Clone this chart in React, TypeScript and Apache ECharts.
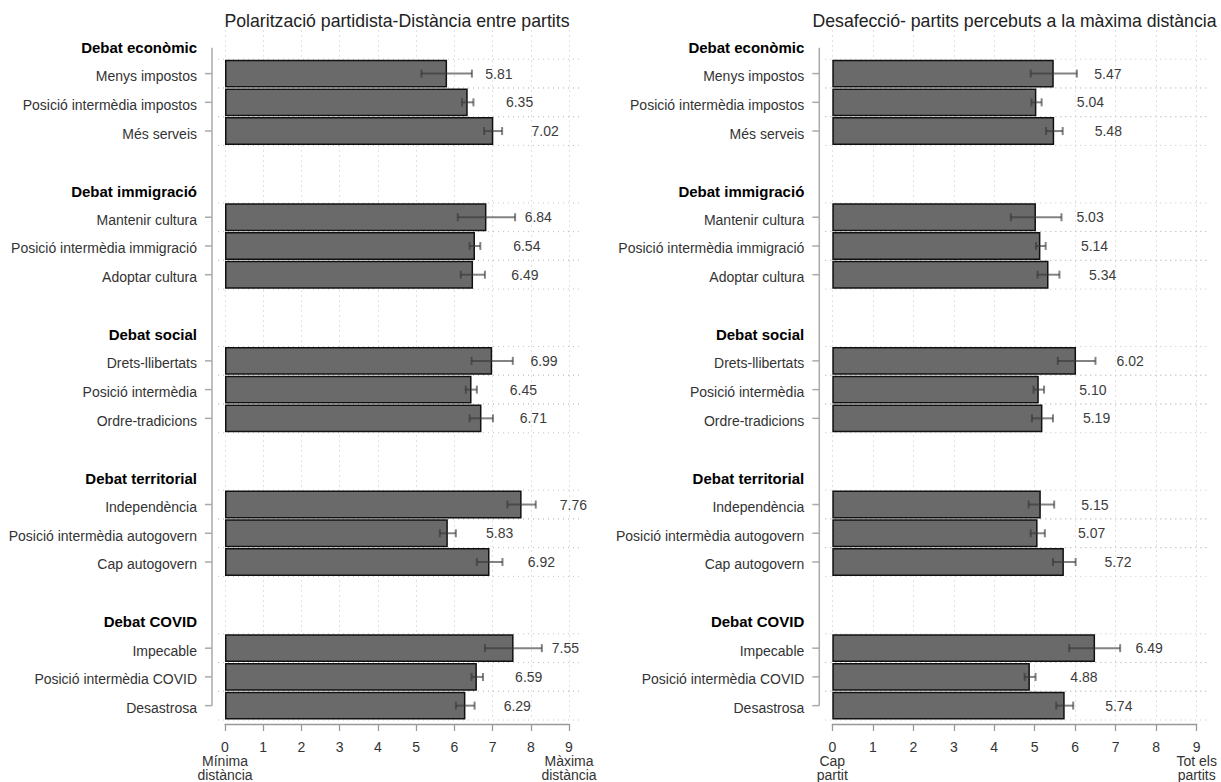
import React, { useEffect, useRef } from "react";
import * as echarts from "echarts";

const groups = ["Debat econòmic", "Debat immigració", "Debat social", "Debat territorial", "Debat COVID"];
const items = [
  ["Menys impostos", "Posició intermèdia impostos", "Més serveis"],
  ["Mantenir cultura", "Posició intermèdia immigració", "Adoptar cultura"],
  ["Drets-llibertats", "Posició intermèdia", "Ordre-tradicions"],
  ["Independència", "Posició intermèdia autogovern", "Cap autogovern"],
  ["Impecable", "Posició intermèdia COVID", "Desastrosa"],
];

const polarTitle = "Polarització partidista-Distància entre partits";
const polarValues = [5.81, 6.35, 7.02, 6.84, 6.54, 6.49, 6.99, 6.45, 6.71, 7.76, 5.83, 6.92, 7.55, 6.59, 6.29];
const polarLower = [5.14, 6.2, 6.78, 6.09, 6.4, 6.17, 6.45, 6.3, 6.4, 7.39, 5.62, 6.59, 6.8, 6.45, 6.04];
const polarUpper = [6.46, 6.5, 7.25, 7.59, 6.68, 6.8, 7.53, 6.59, 7.01, 8.13, 6.04, 7.26, 8.29, 6.75, 6.53];
const polarEnds = ["Mínima\ndistància", "Màxima\ndistància"];

const desafTitle = "Desafecció- partits percebuts a la màxima distància";
const desafValues = [5.47, 5.04, 5.48, 5.03, 5.14, 5.34, 6.02, 5.1, 5.19, 5.15, 5.07, 5.72, 6.49, 4.88, 5.74];
const desafLower = [4.9, 4.92, 5.28, 4.41, 5.03, 5.07, 5.57, 4.97, 4.93, 4.85, 4.9, 5.45, 5.85, 4.75, 5.53];
const desafUpper = [6.04, 5.17, 5.69, 5.66, 5.27, 5.61, 6.5, 5.23, 5.45, 5.48, 5.25, 6.01, 7.11, 5.02, 5.95];
const desafEnds = ["Cap\npartit", "Tot els\npartits"];

const xMin = 0;
const xMax = 9;

type Row = { kind: "h" | "i" | "b"; label: string; item: number };
const rows: Row[] = [];
let itemCounter = 0;
groups.forEach((g, gi) => {
  rows.push({ kind: "h", label: g, item: -1 });
  items[gi].forEach((it) => {
    rows.push({ kind: "i", label: it, item: itemCounter++ });
  });
  if (gi < groups.length - 1) rows.push({ kind: "b", label: "", item: -1 });
});
const rowKeys = rows.map((r, i) => "r" + i);

const FONT = "'Liberation Sans', Arial, sans-serif";

export default function App() {
  const ref = useRef<HTMLDivElement>(null);
  useEffect(() => {
    if (!ref.current) return;
    const chart = echarts.init(ref.current, null, { renderer: "svg" });
    const top = 30.5;
    const height = 692.7;
    const grids = [
      { left: 225, top, width: 344, height },
      { left: 832.3, top, width: 364.4, height },
    ];
    const panels = [
      { values: polarValues, lower: polarLower, upper: polarUpper, ends: polarEnds, title: polarTitle },
      { values: desafValues, lower: desafLower, upper: desafUpper, ends: desafEnds, title: desafTitle },
    ];
    const axisOffset = 13;
    const xAxis: any[] = [];
    const yAxis: any[] = [];
    const series: any[] = [];
    const graphic: any[] = [];
    const itemRowIdx = rows.map((r, i) => (r.kind === "i" ? i : -1)).filter((i) => i >= 0);
    panels.forEach((p, pi) => {
      const g = grids[pi];
      const unitPx = g.width / (xMax - xMin);
      xAxis.push({
        type: "value",
        gridIndex: pi,
        min: xMin,
        max: xMax,
        interval: 1,
        offset: 4,
        axisLine: { show: true, lineStyle: { color: "#999", width: 1.3 } },
        axisTick: { show: true, length: 7, lineStyle: { color: "#999", width: 1.3 } },
        axisLabel: {
          color: "#333",
          fontSize: 14,
          fontFamily: FONT,
          lineHeight: 14,
          margin: 16,
          formatter: (v: number) =>
            v === xMin ? `${v}\n${p.ends[0]}` : v === xMax ? `${v}\n${p.ends[1]}` : String(v),
        },
        splitLine: { show: true, lineStyle: { color: "#c4c4c4", type: [1, 4], width: 1 } },
      });
      yAxis.push({
        type: "category",
        gridIndex: pi,
        inverse: true,
        data: rowKeys,
        offset: axisOffset,
        axisLine: { show: false },
        axisTick: { show: false },
        axisLabel: {
          interval: 0,
          margin: 15,
          fontSize: 14,
          fontFamily: FONT,
          color: "#333",
          padding: [5, 0, 0, 0],
          formatter: (v: string) => {
            const r = rows[rowKeys.indexOf(v)];
            if (!r) return "";
            if (r.kind === "h") return `{b|${r.label}}`;
            return r.label;
          },
          rich: { b: { fontWeight: "bold", color: "#000", fontSize: 15, fontFamily: FONT } },
        },
        splitLine: { show: false },
      });
      // horizontal dotted lines at item row boundaries
      series.push({
        type: "custom",
        xAxisIndex: pi,
        yAxisIndex: pi,
        silent: true,
        clip: false,
        z: 1,
        encode: { y: 0 },
        data: itemRowIdx.map((i) => [i]),
        renderItem: (params: any, api: any) => {
          const idx = api.value(0);
          const c = api.coord([xMin, idx]);
          const cEnd = api.coord([xMax, idx]);
          const band = api.size([0, 1])[1];
          const x1 = c[0] - 7;
          const x2 = cEnd[0] + 10;
          const style = { stroke: "#c4c4c4", lineWidth: 1, lineDash: [1, 4] };
          return {
            type: "group",
            children: [
              { type: "line", shape: { x1, y1: c[1] - band / 2, x2, y2: c[1] - band / 2 }, style },
              { type: "line", shape: { x1, y1: c[1] + band / 2, x2, y2: c[1] + band / 2 }, style },
            ],
          };
        },
      });
      // bars
      series.push({
        type: "bar",
        xAxisIndex: pi,
        yAxisIndex: pi,
        z: 2,
        barCategoryGap: "3%",
        data: rows.map((r) => (r.kind === "i" ? p.values[r.item] : "-")),
        itemStyle: { color: "#6a6a6a", borderColor: "#111", borderWidth: 1.5 },
        label: {
          show: true,
          position: "right",
          distance: unitPx,
          color: "#3c3c3c",
          fontSize: 14,
          fontFamily: FONT,
          formatter: (d: any) => Number(d.value).toFixed(2),
        },
      });
      // error bars
      series.push({
        type: "custom",
        xAxisIndex: pi,
        yAxisIndex: pi,
        silent: true,
        clip: false,
        z: 5,
        encode: { x: [0, 1], y: 2 },
        data: rows
          .map((r, i) => (r.kind === "i" ? [p.lower[r.item], p.upper[r.item], i] : null))
          .filter((d) => d !== null),
        renderItem: (params: any, api: any) => {
          const a = api.coord([api.value(0), api.value(2)]);
          const b = api.coord([api.value(1), api.value(2)]);
          const h = 4;
          const style = { stroke: "rgba(55,55,55,0.62)", lineWidth: 2 };
          return {
            type: "group",
            children: [
              { type: "line", shape: { x1: a[0], y1: a[1], x2: b[0], y2: b[1] }, style },
              { type: "line", shape: { x1: a[0], y1: a[1] - h, x2: a[0], y2: a[1] + h }, style },
              { type: "line", shape: { x1: b[0], y1: b[1] - h, x2: b[0], y2: b[1] + h }, style },
            ],
          };
        },
      });
      // y axis line
      series.push({
        type: "custom",
        xAxisIndex: pi,
        yAxisIndex: pi,
        silent: true,
        clip: false,
        z: 3,
        encode: { y: [0, 1] },
        data: [[0, rows.length - 1]],
        renderItem: (params: any, api: any) => {
          const a = api.coord([xMin, api.value(0)]);
          const b = api.coord([xMin, api.value(1)]);
          return {
            type: "line",
            shape: { x1: a[0] - axisOffset, y1: a[1] + 3, x2: b[0] - axisOffset, y2: b[1] },
            style: { stroke: "#aaa", lineWidth: 1.5 },
          };
        },
      });
      // y axis ticks on item rows
      series.push({
        type: "custom",
        xAxisIndex: pi,
        yAxisIndex: pi,
        silent: true,
        clip: false,
        z: 3,
        encode: { y: 0 },
        data: itemRowIdx.map((i) => [i]),
        renderItem: (params: any, api: any) => {
          const c = api.coord([xMin, api.value(0)]);
          const x = c[0] - axisOffset;
          return {
            type: "line",
            shape: { x1: x - 7, y1: c[1], x2: x, y2: c[1] },
            style: { stroke: "#aaa", lineWidth: 1.5 },
          };
        },
      });
      graphic.push({
        type: "text",
        x: g.left + g.width / 2,
        y: 21,
        style: {
          text: p.title,
          fontSize: 17.7,
          fontFamily: FONT,
          fill: "#222",
          align: "center",
          verticalAlign: "middle",
        },
      });
    });
    chart.setOption({
      animation: false,
      backgroundColor: "#fff",
      grid: grids.map((g) => ({ ...g, containLabel: false })),
      xAxis,
      yAxis,
      series,
      graphic,
    });
    return () => chart.dispose();
  }, []);
  return (
    <div
      ref={ref}
      style={{ position: "fixed", left: 0, top: 0, width: 1221, height: 782, background: "#fff" }}
    />
  );
}
